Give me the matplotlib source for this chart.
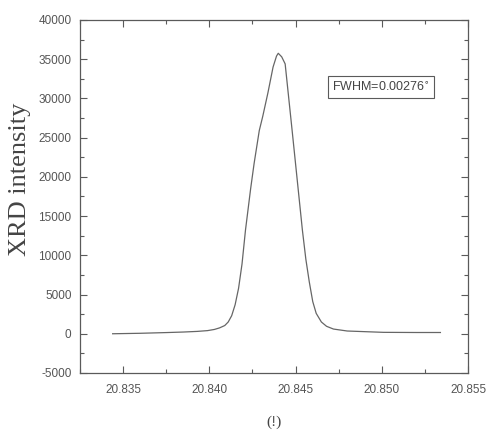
import matplotlib

matplotlib.use("Agg")

import matplotlib.pyplot as plt
from matplotlib.ticker import MultipleLocator

# omega scan
omega = [
    20.8344, 20.8360, 20.8375, 20.8385, 20.8393, 20.8399, 20.8403, 20.8406,
    20.8409, 20.8411, 20.8413, 20.8415, 20.8417, 20.8419, 20.8421, 20.8424,
    20.8426, 20.8429, 20.8431, 20.8434, 20.8437, 20.8439, 20.8440, 20.8442,
    20.8444, 20.8446, 20.8448, 20.8451, 20.8454, 20.8456, 20.8458, 20.8460,
    20.8462, 20.8465, 20.8468, 20.8472, 20.8480, 20.8501, 20.8520, 20.8534,
]
intensity = [
    0, 60, 150, 220, 300, 400, 550, 750,
    1050, 1500, 2300, 3700, 5800, 8900, 13200, 18500,
    21700, 25900, 27700, 30700, 34000, 35400, 35750, 35300,
    34400, 30200, 26000, 19600, 13200, 9500, 6600, 4100,
    2600, 1500, 950, 600, 350, 180, 160, 160,
]

x_ticks = [20.835, 20.840, 20.845, 20.850, 20.855]
y_ticks = list(range(-5000, 40001, 5000))

line_col = "#5a5a5a"
text_col = "#555555"

plt.rcParams["axes.unicode_minus"] = False

fig = plt.figure(figsize=(4.87, 4.30), dpi=100)
ax = fig.add_axes([0.164, 0.1326, 0.797, 0.821])

ax.plot(omega, intensity, color="#666666", linewidth=0.9)

ax.set_xlim(20.8325, 20.855)
ax.set_ylim(-5000, 40000)
ax.set_xticks(x_ticks)
ax.set_yticks(y_ticks)
ax.xaxis.set_minor_locator(MultipleLocator(0.0025))
ax.yaxis.set_minor_locator(MultipleLocator(2500))
ax.set_xticklabels(["%.3f" % v for v in x_ticks])

ax.tick_params(which="both", direction="in", top=True, right=True,
               colors=line_col, labelcolor=text_col, width=0.8)
ax.tick_params(which="major", length=5)
ax.tick_params(which="minor", length=3)
for lab in ax.get_xticklabels() + ax.get_yticklabels():
    lab.set_family("Liberation Sans")
    lab.set_fontsize(8.5)
ax.tick_params(axis="x", pad=8)
ax.tick_params(axis="y", pad=6)

for sp in ax.spines.values():
    sp.set_color(line_col)
    sp.set_linewidth(0.9)

ax.set_ylabel("XRD intensity", family="Liberation Serif", fontsize=19,
              color="#444444")
ax.yaxis.set_label_coords(-0.125, 0.55)
ax.set_xlabel("(!)", family="Liberation Serif", fontsize=11,
              color="#444444", labelpad=14)

ax.text(0.776, 0.81, "FWHM=0.00276$^{\\circ}$", transform=ax.transAxes,
        ha="center", va="center", fontsize=9, family="Liberation Sans",
        color="#444444",
        bbox=dict(boxstyle="square,pad=0.35", facecolor="white",
                  edgecolor=line_col, linewidth=0.8))

fig.savefig("out.png", dpi=100)
plt.close(fig)
